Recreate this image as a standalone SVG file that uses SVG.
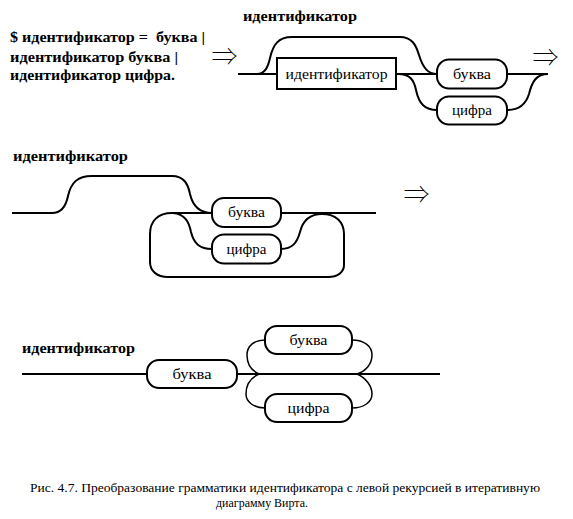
<svg xmlns="http://www.w3.org/2000/svg" width="573" height="519" viewBox="0 0 573 519">
<style>
.bg{fill:#fff}
.ln{fill:none;stroke:#000;stroke-width:2}
.thin{fill:none;stroke:#000;stroke-width:1.5}
.node{fill:#fff;stroke:#000;stroke-width:2}
.b{font-family:"Liberation Serif","Times New Roman",serif;font-weight:bold;font-size:15px;fill:#000}
.t{font-family:"Liberation Serif","Times New Roman",serif;font-size:15px;fill:#000;text-anchor:middle}
.cap{font-family:"Liberation Serif","Times New Roman",serif;font-size:13px;fill:#000}
.arr{font-family:"Noto Sans CJK JP","DejaVu Sans",sans-serif;font-weight:100;font-size:26px;fill:#000;text-anchor:middle}
</style>
<rect class="bg" x="0" y="0" width="573" height="519"/>

<g id="formula">
<text class="b" x="10" y="42" textLength="195" lengthAdjust="spacingAndGlyphs" xml:space="preserve">$ идентификатор =  буква |</text>
<text class="b" x="10" y="61.5" textLength="168" lengthAdjust="spacingAndGlyphs">идентификатор буква |</text>
<text class="b" x="10" y="80" textLength="165" lengthAdjust="spacingAndGlyphs">идентификатор цифра.</text>
</g>
<g id="arrows">
<text class="arr" x="224.5" y="66">⇒</text>
<text class="arr" x="545.5" y="67">⇒</text>
<text class="arr" x="416.5" y="204">⇒</text>
</g>

<g id="connectors">
<path class="ln" d="M238,74 H277"/>
<path class="ln" d="M257,74 C265,74 268,67 270,58 C273,45 278,37 292,37 H400 C412,37 416,45 419,55 C423,68 428,74 437,74"/>
<path class="ln" d="M396,74 H437"/>
<path class="ln" d="M398,74 C410,74 414,80 416,90 C419,104 425,110 437,110"/>
<path class="ln" d="M507,74 H548"/>
<path class="ln" d="M507,110 C520,110 526,104 529,94 C532,82 536,74 548,74"/>
<path class="ln" d="M12,213 H52 C62,213 66,206 68,196 C71,183 77,176 92,176 H172 C184,176 188,184 190,194 C193,207 200,213 212,213"/>
<path class="ln" d="M281,213 H376"/>
<path class="ln" d="M281,249 C292,249 297,243 300,232 C303,220 310,214 322,214 C336,214 344,222 344,234 V265 C344,272 338,277 328,277 H168 C157,277 150,271 150,262 V234 C150,221 158,213 172,213 H212"/>
<path class="ln" d="M173,213 C185,214 189,222 191,232 C194,244 200,249 212,249"/>
<path class="ln" d="M22,374 H147"/>
<path class="ln" d="M237,374 H440"/>
<path class="thin" d="M259,374 C250,370 247,362 247,355 C247,346 254,340 265,340"/>
<path class="thin" d="M352,340 C364,340 372,346 372,355 C372,364 366,371 357,374"/>
<path class="thin" d="M259,374 C250,378 246,386 246,394 C246,402 254,408 265,408"/>
<path class="thin" d="M352,408 C364,408 372,402 372,394 C372,386 366,378 357,374"/>
</g>

<g id="title1"><text class="b" x="243" y="21" textLength="114" lengthAdjust="spacingAndGlyphs">идентификатор</text></g>
<g id="d1-ident">
<rect class="node" x="277" y="58" width="119" height="31"/>
<text class="t" x="336.5" y="79" textLength="102" lengthAdjust="spacingAndGlyphs">идентификатор</text>
</g>
<g id="d1-bukva">
<rect class="node" x="437" y="59.5" width="70" height="29" rx="12"/>
<text class="t" x="472" y="78.5" textLength="38" lengthAdjust="spacingAndGlyphs">буква</text>
</g>
<g id="d1-cifra">
<rect class="node" x="437" y="96.5" width="70" height="28" rx="12"/>
<text class="t" x="472" y="115" textLength="40" lengthAdjust="spacingAndGlyphs">цифра</text>
</g>

<g id="title2"><text class="b" x="13" y="161" textLength="115" lengthAdjust="spacingAndGlyphs">идентификатор</text></g>
<g id="d2-bukva">
<rect class="node" x="212" y="198" width="69" height="29" rx="12"/>
<text class="t" x="246.5" y="217" textLength="37" lengthAdjust="spacingAndGlyphs">буква</text>
</g>
<g id="d2-cifra">
<rect class="node" x="212" y="234.5" width="69" height="29" rx="12"/>
<text class="t" x="246.5" y="253.5" textLength="40" lengthAdjust="spacingAndGlyphs">цифра</text>
</g>

<g id="title3"><text class="b" x="22" y="353" textLength="113" lengthAdjust="spacingAndGlyphs">идентификатор</text></g>
<g id="d3-bukva1">
<rect class="node" x="147" y="360" width="90" height="28" rx="12"/>
<text class="t" x="192" y="378.5" textLength="39" lengthAdjust="spacingAndGlyphs">буква</text>
</g>
<g id="d3-bukva2">
<rect class="node" x="265" y="326" width="87" height="28" rx="12"/>
<text class="t" x="308.5" y="344.5" textLength="38" lengthAdjust="spacingAndGlyphs">буква</text>
</g>
<g id="d3-cifra">
<rect class="node" x="265" y="394" width="87" height="28" rx="12"/>
<text class="t" x="308.5" y="412.5" textLength="42" lengthAdjust="spacingAndGlyphs">цифра</text>
</g>

<g id="caption">
<text class="cap" x="30" y="492" textLength="510" lengthAdjust="spacingAndGlyphs">Рис. 4.7. Преобразование грамматики идентификатора с левой рекурсией в итеративную</text>
<text class="cap" x="216" y="507" textLength="92" lengthAdjust="spacingAndGlyphs">диаграмму Вирта.</text>
</g>
</svg>
